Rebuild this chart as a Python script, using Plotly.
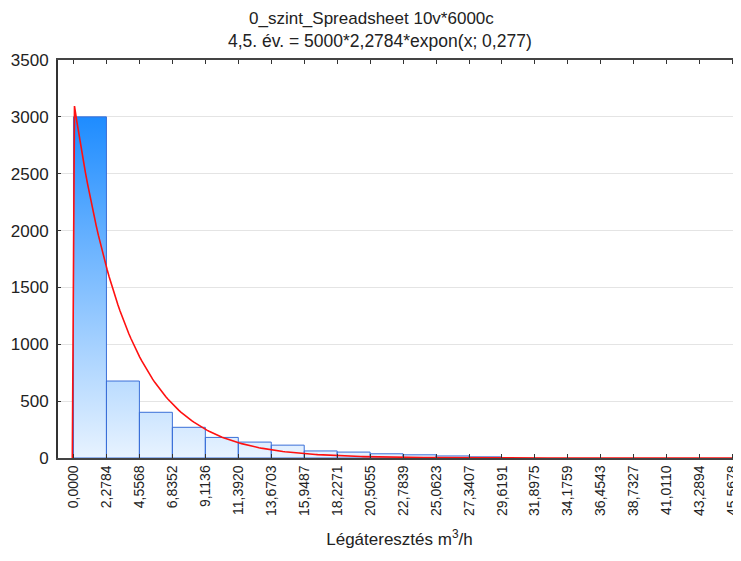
import numpy as np
import plotly.graph_objects as go

# ---- data ----
tick_labels = ["0,0000", "2,2784", "4,5568", "6,8352", "9,1136", "11,3920", "13,6703",
               "15,9487", "18,2271", "20,5055", "22,7839", "25,0623", "27,3407",
               "29,6191", "31,8975", "34,1759", "36,4543", "38,7327", "41,0110",
               "43,2894", "45,5678"]
bin_counts = [3000, 677, 402, 270, 181, 140, 113, 62, 52, 37, 28, 18, 10,
              0, 0, 0, 0, 0, 0, 0]
# fitted curve parameters (from the title): N * binwidth * expon(x; lambda)
fit_n = 5000
fit_binwidth = 2.2784
fit_lambda = 0.277
title_lines = ["0_szint_Spreadsheet 10v*6000c",
               "4,5. év. = 5000*2,2784*expon(x; 0,277)"]

edges = [float(s.replace(",", ".")) for s in tick_labels]

# closed rectangle per histogram bin (None separates polygons)
rx, ry = [], []
for i, c in enumerate(bin_counts):
    if c <= 0:
        continue
    rx += [edges[i], edges[i], edges[i + 1], edges[i + 1], edges[i], None]
    ry += [0, c, c, 0, 0, None]

xc = np.arange(-0.08, 46.2, 0.15)
yc = np.where(xc < 0, 0.0,
              fit_n * fit_binwidth * fit_lambda * np.exp(-fit_lambda * np.clip(xc, 0, None)))

fig = go.Figure()
fig.add_trace(go.Scatter(
    x=rx, y=ry, mode="lines", fill="toself", hoverinfo="skip",
    line=dict(color="#3a6fd8", width=1),
    fillgradient=dict(type="vertical",
                      colorscale=[[0, "#e8f3ff"], [1, "#1e8cff"]],
                      start=0, stop=max(bin_counts)),
))
fig.add_trace(go.Scatter(x=xc, y=yc, mode="lines",
                         line=dict(color="#ff1010", width=1.6)))

# the page body has an 8px margin, so the figure is offset by (8, 8)
fig.update_layout(
    width=733, height=553,
    margin=dict(l=50, r=0, t=52, b=103),
    paper_bgcolor="white", plot_bgcolor="white",
    showlegend=False,
    font=dict(family="Liberation Sans, Arial, sans-serif", color="#222"),
    annotations=[
        dict(text=title_lines[0], xref="paper", yref="paper",
             x=(371 - 58) / 683, y=1 + 42 / 398, xanchor="center", yanchor="middle",
             showarrow=False, font=dict(size=17, color="#222")),
        dict(text=title_lines[1], xref="paper", yref="paper",
             x=(380 - 58) / 683, y=1 + 19 / 398, xanchor="center", yanchor="middle",
             showarrow=False, font=dict(size=17.5, color="#222")),
    ],
)
fig.update_xaxes(
    range=[-1.07, 46.14], automargin=False,
    tickmode="array", tickvals=edges, ticktext=tick_labels,
    tickangle=-90, tickfont=dict(size=14, color="#222"),
    ticks="inside", ticklen=4, tickcolor="#333", tickwidth=1,
    showline=True, linecolor="#444", linewidth=1.5, mirror="ticks",
    showgrid=False, zeroline=False,
    title=dict(text="Légáteresztés m<sup>3</sup>/h", font=dict(size=17, color="#222"),
               standoff=18),
)
fig.update_yaxes(
    range=[0, 3500], dtick=500, automargin=False,
    tickfont=dict(size=17, color="#222"),
    ticks="inside", ticklen=3, tickcolor="#333",
    showline=True, linecolor="#333", linewidth=2,
    showgrid=True, gridcolor="#e4e4e4", gridwidth=1, zeroline=False,
    ticklabelstandoff=4,
)

fig.write_html("out.html")
